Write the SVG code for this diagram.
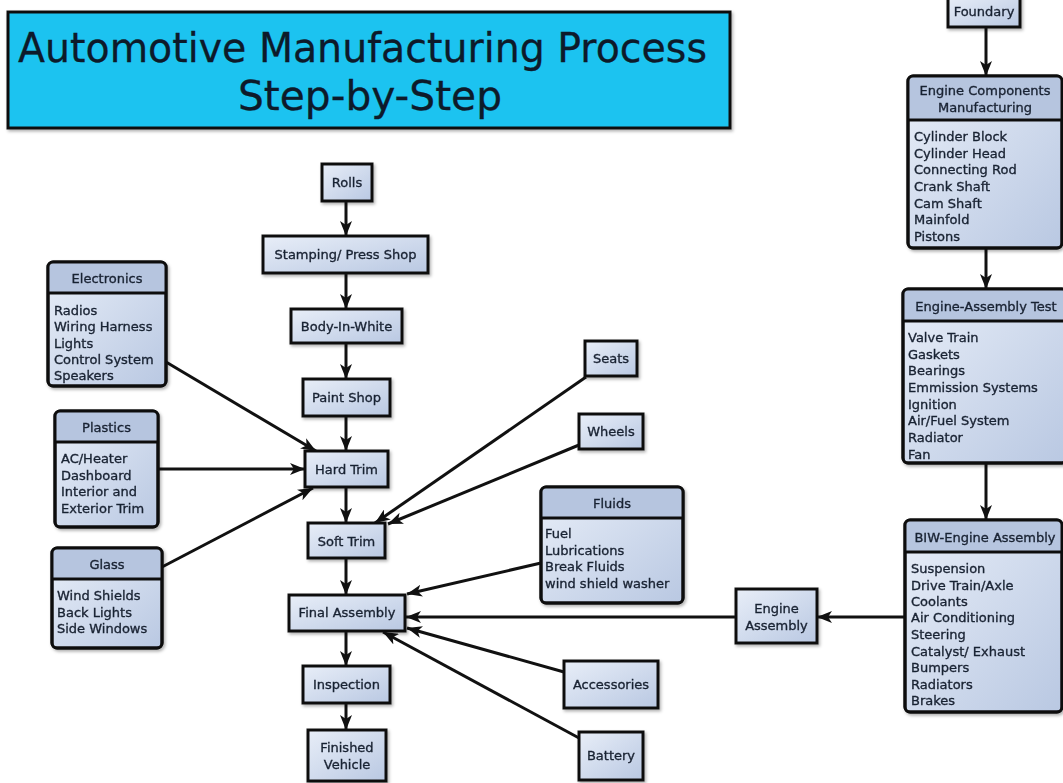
<svg xmlns="http://www.w3.org/2000/svg" width="1063" height="783" viewBox="0 0 1063 783">
<style>
text{font-family:"DejaVu Sans","Liberation Sans",sans-serif;fill:#1a2333;font-size:13px;stroke:#1a2333;stroke-width:0.35}
.c{text-anchor:middle}
.t{font-size:41px;fill:#0d1a2a;stroke:#0d1a2a;stroke-width:0.3}
.box{fill:url(#g);stroke:#111;stroke-width:3}
.hd{fill:#b6c5df}
.sep{stroke:#111;stroke-width:3}
.ol{fill:none;stroke:#111;stroke-width:3}
.cn line{stroke:#111;stroke-width:3}
</style>
<defs>
<linearGradient id="g" x1="0" y1="0" x2="1" y2="1">
<stop offset="0" stop-color="#e8eef8"/>
<stop offset="1" stop-color="#b9c8e2"/>
</linearGradient>
<filter id="sh" x="-10%" y="-10%" width="130%" height="130%">
<feDropShadow dx="1.5" dy="2" stdDeviation="1.5" flood-color="#000" flood-opacity="0.3"/>
</filter>
<marker id="a" markerUnits="userSpaceOnUse" markerWidth="16" markerHeight="12" refX="15" refY="6" orient="auto">
<path d="M0,0 L15,6 L0,12 L4,6 Z" fill="#111"/>
</marker>
</defs>
<rect width="1063" height="783" fill="#fff"/>

<g id="title">
<rect x="8" y="12" width="722" height="116" fill="#1cc3f0" stroke="#111" stroke-width="3" filter="url(#sh)"/>
<text class="t" x="18" y="62" textLength="689" lengthAdjust="spacingAndGlyphs">Automotive Manufacturing Process</text>
<text class="t" x="238" y="110" textLength="264" lengthAdjust="spacingAndGlyphs">Step-by-Step</text>
</g>

<g class="cn" id="connectors">
<line x1="346" y1="201" x2="346" y2="236" marker-end="url(#a)"/>
<line x1="346" y1="273" x2="346" y2="309" marker-end="url(#a)"/>
<line x1="346" y1="343" x2="346" y2="379" marker-end="url(#a)"/>
<line x1="346" y1="416" x2="346" y2="451" marker-end="url(#a)"/>
<line x1="346" y1="487" x2="346" y2="523" marker-end="url(#a)"/>
<line x1="346" y1="558" x2="346" y2="595" marker-end="url(#a)"/>
<line x1="346" y1="631" x2="346" y2="666" marker-end="url(#a)"/>
<line x1="346" y1="703" x2="346" y2="730" marker-end="url(#a)"/>
<line x1="166" y1="362" x2="316" y2="451" marker-end="url(#a)"/>
<line x1="158" y1="469" x2="305" y2="469" marker-end="url(#a)"/>
<line x1="162" y1="567" x2="313" y2="488" marker-end="url(#a)"/>
<line x1="586" y1="377" x2="375" y2="523" marker-end="url(#a)"/>
<line x1="579" y1="445" x2="388" y2="524" marker-end="url(#a)"/>
<line x1="541" y1="563" x2="407" y2="594" marker-end="url(#a)"/>
<line x1="736" y1="617" x2="406" y2="617" marker-end="url(#a)"/>
<line x1="564" y1="672" x2="407" y2="628" marker-end="url(#a)"/>
<line x1="579" y1="738" x2="383" y2="632" marker-end="url(#a)"/>
<line x1="986" y1="27" x2="986" y2="76" marker-end="url(#a)"/>
<line x1="986" y1="248" x2="986" y2="289" marker-end="url(#a)"/>
<line x1="986" y1="463" x2="986" y2="520" marker-end="url(#a)"/>
<line x1="905" y1="617" x2="817" y2="617" marker-end="url(#a)"/>
</g>

<g id="rolls" filter="url(#sh)"><rect class="box" x="322" y="164" width="50" height="37"/><text class="c" x="347" y="187">Rolls</text></g>
<g id="stamping" filter="url(#sh)"><rect class="box" x="263" y="236" width="165" height="37"/><text class="c" x="345.5" y="259">Stamping/ Press Shop</text></g>
<g id="biw" filter="url(#sh)"><rect class="box" x="291" y="309" width="111" height="34"/><text class="c" x="346.5" y="331">Body-In-White</text></g>
<g id="paint" filter="url(#sh)"><rect class="box" x="303" y="379" width="87" height="37"/><text class="c" x="346.5" y="402">Paint Shop</text></g>
<g id="hardtrim" filter="url(#sh)"><rect class="box" x="305" y="451" width="83" height="36"/><text class="c" x="346.5" y="474">Hard Trim</text></g>
<g id="softtrim" filter="url(#sh)"><rect class="box" x="308" y="523" width="77" height="35"/><text class="c" x="346.5" y="546">Soft Trim</text></g>
<g id="final" filter="url(#sh)"><rect class="box" x="289" y="595" width="116" height="36"/><text class="c" x="347" y="617">Final Assembly</text></g>
<g id="inspection" filter="url(#sh)"><rect class="box" x="303" y="666" width="87" height="37"/><text class="c" x="346.5" y="689">Inspection</text></g>
<g id="finished" filter="url(#sh)"><rect class="box" x="308" y="730" width="78" height="51"/><text class="c" x="347" y="752">Finished</text><text class="c" x="347" y="769">Vehicle</text></g>
<g id="seats" filter="url(#sh)"><rect class="box" x="585" y="341" width="52" height="35"/><text class="c" x="611" y="363">Seats</text></g>
<g id="wheels" filter="url(#sh)"><rect class="box" x="579" y="414" width="64" height="35"/><text class="c" x="611" y="436">Wheels</text></g>
<g id="accessories" filter="url(#sh)"><rect class="box" x="564" y="661" width="94" height="47"/><text class="c" x="611" y="689">Accessories</text></g>
<g id="battery" filter="url(#sh)"><rect class="box" x="579" y="732" width="64" height="48"/><text class="c" x="611" y="760">Battery</text></g>
<g id="engineassembly" filter="url(#sh)"><rect class="box" x="736" y="589" width="81" height="54"/><text class="c" x="776.5" y="613">Engine</text><text class="c" x="776.5" y="630">Assembly</text></g>
<g id="foundary" filter="url(#sh)"><rect class="box" x="948" y="-4" width="72" height="31"/><text class="c" x="984" y="16">Foundary</text></g>

<g id="electronics" filter="url(#sh)">
<rect class="box" x="48" y="262" width="118" height="124" rx="5"/>
<path class="hd" d="M48,293 V267 Q48,262 53,262 H161 Q166,262 166,267 V293 Z"/>
<line class="sep" x1="48" y1="293" x2="166" y2="293"/>
<rect class="ol" x="48" y="262" width="118" height="124" rx="5"/>
<text class="c" x="107" y="283">Electronics</text>
<text x="54" y="315">Radios</text><text x="54" y="331">Wiring Harness</text><text x="54" y="348">Lights</text><text x="54" y="364">Control System</text><text x="54" y="380">Speakers</text>
</g>

<g id="plastics" filter="url(#sh)">
<rect class="box" x="55" y="411" width="103" height="116" rx="5"/>
<path class="hd" d="M55,442 V416 Q55,411 60,411 H153 Q158,411 158,416 V442 Z"/>
<line class="sep" x1="55" y1="442" x2="158" y2="442"/>
<rect class="ol" x="55" y="411" width="103" height="116" rx="5"/>
<text class="c" x="106.5" y="432">Plastics</text>
<text x="61" y="463">AC/Heater</text><text x="61" y="480">Dashboard</text><text x="61" y="496">Interior and</text><text x="61" y="513">Exterior Trim</text>
</g>

<g id="glass" filter="url(#sh)">
<rect class="box" x="52" y="548" width="110" height="100" rx="5"/>
<path class="hd" d="M52,579 V553 Q52,548 57,548 H157 Q162,548 162,553 V579 Z"/>
<line class="sep" x1="52" y1="579" x2="162" y2="579"/>
<rect class="ol" x="52" y="548" width="110" height="100" rx="5"/>
<text class="c" x="107" y="569">Glass</text>
<text x="57" y="600">Wind Shields</text><text x="57" y="617">Back Lights</text><text x="57" y="633">Side Windows</text>
</g>

<g id="fluids" filter="url(#sh)">
<rect class="box" x="541" y="487" width="142" height="116" rx="5"/>
<path class="hd" d="M541,518 V492 Q541,487 546,487 H678 Q683,487 683,492 V518 Z"/>
<line class="sep" x1="541" y1="518" x2="683" y2="518"/>
<rect class="ol" x="541" y="487" width="142" height="116" rx="5"/>
<text class="c" x="612" y="508">Fluids</text>
<text x="545" y="538">Fuel</text><text x="545" y="555">Lubrications</text><text x="545" y="571">Break Fluids</text><text x="545" y="588">wind shield washer</text>
</g>

<g id="enginecomponents" filter="url(#sh)">
<rect class="box" x="908" y="76" width="154" height="172" rx="5"/>
<path class="hd" d="M908,120 V81 Q908,76 913,76 H1057 Q1062,76 1062,81 V120 Z"/>
<line class="sep" x1="908" y1="120" x2="1062" y2="120"/>
<rect class="ol" x="908" y="76" width="154" height="172" rx="5"/>
<text class="c" x="985" y="95">Engine Components</text><text class="c" x="985" y="112">Manufacturing</text>
<text x="914" y="141">Cylinder Block</text><text x="914" y="158">Cylinder Head</text><text x="914" y="174">Connecting Rod</text><text x="914" y="191">Crank Shaft</text><text x="914" y="208">Cam Shaft</text><text x="914" y="224">Mainfold</text><text x="914" y="241">Pistons</text>
</g>

<g id="engineassemblytest" filter="url(#sh)">
<rect class="box" x="903" y="289" width="164" height="174" rx="5"/>
<path class="hd" d="M903,321 V294 Q903,289 908,289 H1067 V321 Z"/>
<line class="sep" x1="903" y1="321" x2="1067" y2="321"/>
<rect class="ol" x="903" y="289" width="164" height="174" rx="5"/>
<text class="c" x="986" y="311">Engine-Assembly Test</text>
<text x="908" y="342">Valve Train</text><text x="908" y="359">Gaskets</text><text x="908" y="375">Bearings</text><text x="908" y="392">Emmission Systems</text><text x="908" y="409">Ignition</text><text x="908" y="425">Air/Fuel System</text><text x="908" y="442">Radiator</text><text x="908" y="459">Fan</text>
</g>

<g id="biwengine" filter="url(#sh)">
<rect class="box" x="905" y="520" width="157" height="192" rx="5"/>
<path class="hd" d="M905,552 V525 Q905,520 910,520 H1057 Q1062,520 1062,525 V552 Z"/>
<line class="sep" x1="905" y1="552" x2="1062" y2="552"/>
<rect class="ol" x="905" y="520" width="157" height="192" rx="5"/>
<text class="c" x="985" y="542">BIW-Engine Assembly</text>
<text x="911" y="573">Suspension</text><text x="911" y="590">Drive Train/Axle</text><text x="911" y="606">Coolants</text><text x="911" y="622">Air Conditioning</text><text x="911" y="639">Steering</text><text x="911" y="656">Catalyst/ Exhaust</text><text x="911" y="672">Bumpers</text><text x="911" y="689">Radiators</text><text x="911" y="705">Brakes</text>
</g>
</svg>
